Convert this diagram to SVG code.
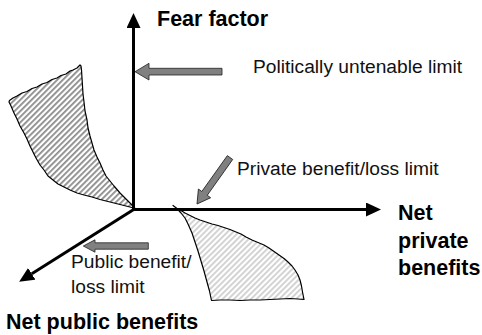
<svg xmlns="http://www.w3.org/2000/svg" width="482" height="335" viewBox="0 0 482 335">
  <style>
    .axis { stroke: #000; stroke-width: 3; fill: none; }
    .blk { fill: #808080; stroke: #222; stroke-width: 0.8; stroke-linejoin: miter; }
    .shape { stroke: #000; stroke-width: 1.2; stroke-linejoin: round; }
    .lbl { font-family: "Liberation Sans", Arial, Helvetica, sans-serif; font-size: 19.2px; fill: #111; }
    .ttl { font-family: "Liberation Sans", Arial, Helvetica, sans-serif; font-size: 21.5px; font-weight: bold; fill: #000; }
  </style>
  <defs>
    <marker id="ah" markerUnits="userSpaceOnUse" markerWidth="16" markerHeight="16" refX="0" refY="7" orient="auto">
      <path d="M0,0 L15,7 L0,14 Z" fill="#000"/>
    </marker>
    <pattern id="hatchDark" patternUnits="userSpaceOnUse" width="4" height="4" patternTransform="rotate(45)">
      <rect x="0" y="0" width="4" height="4" fill="#fff"/>
      <rect x="0" y="0" width="1.8" height="4" fill="#8c8c8c"/>
    </pattern>
    <pattern id="hatchLight" patternUnits="userSpaceOnUse" width="4" height="4" patternTransform="rotate(45)">
      <rect x="0" y="0" width="4" height="4" fill="#fff"/>
      <rect x="0" y="0" width="1.8" height="4" fill="#cfcfcf"/>
    </pattern>
  </defs>
  <rect width="482" height="335" fill="#fff"/>

  <g id="region-left">
    <path class="shape" fill="url(#hatchDark)" d="M80,65 L77,68 L73,70 L70,71 L66,74 L61,75.5 L57,78 L52,79.5 L47,82.5 L42,84 L37,87 L32,88.5 L27,91.5 L22,93 L17,96 L13,98 L9.5,100.5 L9,102 L11,106 L14,113 L17,119 L20,126 L24,133 L27,139 L30,146 L33,152 L36,158 L40,165 L44,170 L48,176 L53,180 L58,184 L64,187 L70,190 L77,193 L84,195 L92,197 L100,199.5 L108,201.5 L116,203.5 L124,205.5 L130,207 L135,208.5 L131,204 L127,200 L120,193 L114,186 L110,181 L106,176 L103,170 L100,163 L97,157 L94,150 L92,143 L90,136 L88,128 L87,120 L85,111 L84,102 L83,94 L82.5,86 L82,78 L81.5,70 L81,66 Z"/>
  </g>

  <g id="region-right">
    <path class="shape" fill="url(#hatchLight)" d="M173,205.5 L177,208.5 L181,210.5 L185,213 L190,215.5 L195,218 L200,220 L206,222 L212,224 L218,225.5 L224,227.5 L230,229.5 L236,232 L241,234 L246,237 L252,240 L258,242.5 L264,245 L269,248 L274,251.5 L279,255 L284,258.5 L288,262 L292,266 L295,270 L298,275 L300,280 L301.5,286 L302.5,292 L303.5,297 L304,299.5 L298,299 L290,298.5 L280,299 L270,299.5 L260,300 L250,300 L240,300.5 L230,300 L220,300 L211.5,300.5 L209.5,291 L207,282 L204,271 L201,261 L198,251 L195,242 L192,233 L188,224 L185,218 L181,213 L177,208.5 Z"/>
  </g>

  <g id="connectors">
    <line class="axis" x1="133.5" y1="209.5" x2="133.5" y2="28" marker-end="url(#ah)"/>
    <line class="axis" x1="132" y1="209.5" x2="366" y2="209.5" marker-end="url(#ah)"/>
    <line class="axis" x1="134.5" y1="209" x2="31.8" y2="273.8" marker-end="url(#ah)"/>
  </g>

  <g id="arrow-political">
    <path class="blk" d="M135,71.7 L149,63.3 L149,68.3 L222,68.3 L222,75 L149,75 L149,80 Z"/>
  </g>
  <g id="arrow-private">
    <path class="blk" transform="translate(197,204) rotate(125.4)" d="M0,0 L-13,-7.5 L-13,-3.3 L-57,-3.3 L-57,3.3 L-13,3.3 L-13,7.5 Z"/>
  </g>
  <g id="arrow-public">
    <path class="blk" d="M83.3,246 L95,239.8 L95,242.8 L148.3,242.8 L148.3,249.2 L95,249.2 L95,252.2 Z"/>
  </g>

  <g id="label-fear">
    <text class="ttl" x="157" y="26">Fear factor</text>
  </g>
  <g id="label-netprivate">
    <text class="ttl" x="398" y="220">Net</text>
    <text class="ttl" x="398" y="247.5">private</text>
    <text class="ttl" x="398" y="275">benefits</text>
  </g>
  <g id="label-netpublic">
    <text class="ttl" x="6" y="329">Net public benefits</text>
  </g>
  <g id="label-political">
    <text class="lbl" x="253" y="73">Politically untenable limit</text>
  </g>
  <g id="label-private">
    <text class="lbl" x="237" y="175">Private benefit/loss limit</text>
  </g>
  <g id="label-public">
    <text class="lbl" x="71" y="268">Public benefit/</text>
    <text class="lbl" x="71" y="293">loss limit</text>
  </g>
</svg>
